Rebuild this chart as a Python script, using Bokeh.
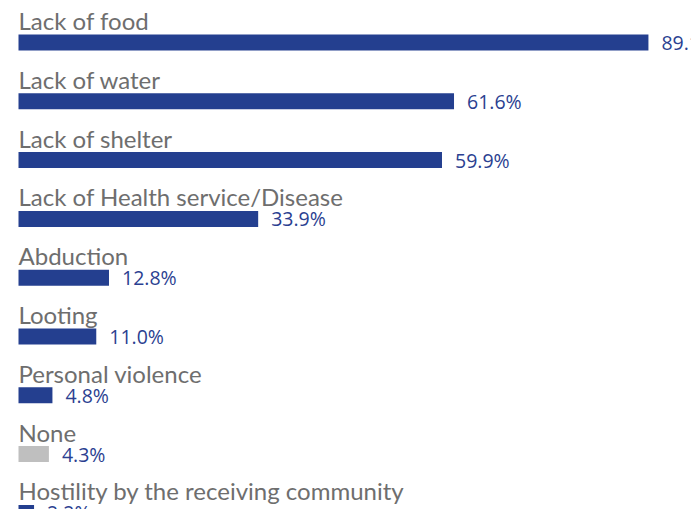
from bokeh.plotting import figure
from bokeh.models import ColumnDataSource, Range1d
from bokeh.embed import file_html
from bokeh.resources import INLINE
from bokeh.core.properties import value

categories = ["Lack of food", "Lack of water", "Lack of shelter",
              "Lack of Health service/Disease", "Abduction", "Looting",
              "Personal violence", "None", "Hostility by the receiving community"]
values = [89.1, 61.6, 59.9, 33.9, 12.8, 11.0, 4.8, 4.3, 2.2]
value_labels = ["89.1%", "61.6%", "59.9%", "33.9%", "12.8%", "11.0%", "4.8%", "4.3%", "2.2%"]
bar_colors = ["#243F8F"] * 7 + ["#BFBFBF"] + ["#243F8F"]

pos = list(range(len(categories)))
src = ColumnDataSource(dict(cat=categories, val=values, lab=value_labels,
                            col=bar_colors, y=pos, zero=[0] * len(pos)))

W, H = 691, 509
px_per = 7.07
x0 = -18 / px_per
x1 = x0 + W / px_per
sp = 58.8
y_top = -42 / sp
y_bot = (H - 42) / sp

p = figure(width=W, height=H, output_backend="svg", toolbar_location=None,
           x_range=Range1d(x0, x1), y_range=Range1d(y_bot, y_top),
           min_border=0, outline_line_color=None)
p.axis.visible = False
p.grid.visible = False

p.hbar(y="y", left=0, right="val", height=16 / sp, fill_color="col",
       line_color=None, source=src)

p.text(x="zero", y="y", text="cat", source=src, y_offset=-22,
       text_baseline="alphabetic", text_align="left",
       text_font=value("Lato"), text_font_size="24px", text_color="#6E6E6E")

p.text(x="val", y="y", text="lab", source=src, x_offset=13,
       text_baseline="middle", text_align="left",
       text_font=value("Open Sans"), text_font_size="19.5px", text_color="#2B3F91")

open("out.html", "w").write(file_html(p, INLINE))
